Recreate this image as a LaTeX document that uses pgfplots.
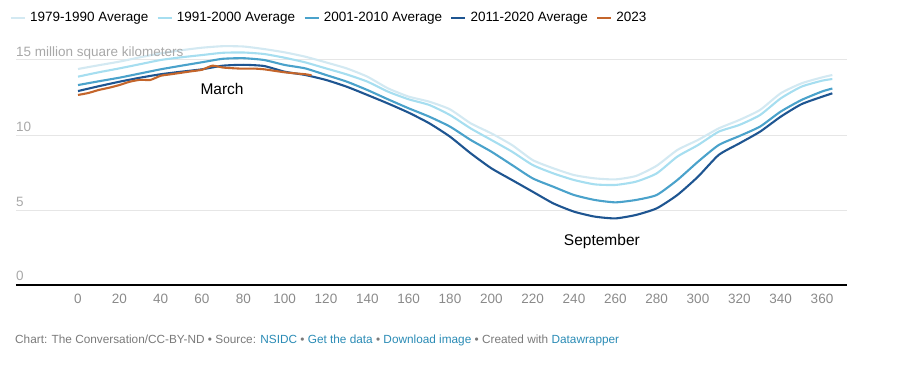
\documentclass[border=0pt]{standalone}
\usepackage{pgfplots}
\pgfplotsset{compat=1.18}
\usepackage{fontspec}
\setmainfont{Liberation Sans}
\definecolor{cA}{HTML}{D3E9F2}
\definecolor{cB}{HTML}{A6DEF0}
\definecolor{cC}{HTML}{4AA2CB}
\definecolor{cD}{HTML}{1E5591}
\definecolor{cE}{HTML}{C4652B}
\definecolor{ticktxt}{HTML}{8A8A8A}
\definecolor{ylab}{HTML}{A8A8A8}
\definecolor{gridc}{HTML}{E6E6E6}
\definecolor{foot}{HTML}{7A7A7A}
\definecolor{link}{HTML}{2A8BB5}

\begin{document}
\begin{tikzpicture}[x=1pt,y=1pt]
\begin{axis}[
 at={(16pt,80pt)}, anchor=south west,
 scale only axis, width=830.8pt, height=247.5pt,
 xmin=-30, xmax=372, ymin=0, ymax=16.5,
 axis lines*=left,
 y axis line style={draw=none},
 x axis line style={black, line width=1.3pt},
 major tick length=0pt,
 xtick={0,20,...,360},
 ytick={5,10,15}, yticklabels={},
 ymajorgrids, grid style={gridc, line width=1pt},
 xticklabel style={text=ticktxt, font=\fontsize{13.5}{15}\selectfont, yshift=-6pt},
 /pgf/number format/assume math mode=true,
 clip=false,
 legend style={at={(-0.008,1.11)}, anchor=north west, draw=none, fill=none,
   legend columns=-1, font=\fontsize{13.5}{15}\selectfont, inner sep=0pt,
   /tikz/every odd column/.append style={column sep=2pt},
   /tikz/every even column/.append style={column sep=6pt}},
 legend image code/.code={\draw[#1, line width=2.5pt] (0pt,0pt) -- (14pt,0pt);},
 every axis plot/.append style={line width=2.1pt, line join=round, mark=none, smooth, tension=0.35},
]
\addplot[cA] coordinates {
(0,14.40)(10,14.65)(20,14.89)(30,15.18)(40,15.44)(50,15.65)(60,15.82)(70,15.92)(80,15.90)(90,15.73)
(100,15.51)(110,15.22)(120,14.84)(130,14.44)(140,13.89)(150,13.11)(160,12.56)(170,12.22)(180,11.71)(190,10.78)
(200,10.11)(210,9.33)(220,8.33)(230,7.78)(240,7.33)(250,7.11)(260,7.04)(270,7.27)(280,7.95)(290,9.00)
(300,9.67)(310,10.44)(320,11.00)(330,11.67)(340,12.78)(350,13.44)(360,13.84)(365,14.00)};
\addlegendentry{1979-1990 Average}
\addplot[cB] coordinates {
(0,13.89)(10,14.18)(20,14.44)(30,14.72)(40,15.00)(50,15.18)(60,15.33)(70,15.48)(80,15.50)(90,15.40)
(100,15.15)(110,14.84)(120,14.44)(130,14.04)(140,13.56)(150,12.89)(160,12.38)(170,12.00)(180,11.33)(190,10.44)
(200,9.67)(210,8.89)(220,8.00)(230,7.44)(240,7.00)(250,6.71)(260,6.67)(270,6.89)(280,7.44)(290,8.56)
(300,9.33)(310,10.22)(320,10.67)(330,11.33)(340,12.44)(350,13.22)(360,13.62)(365,13.73)};
\addlegendentry{1991-2000 Average}
\addplot[cC] coordinates {
(0,13.33)(10,13.58)(20,13.82)(30,14.10)(40,14.38)(50,14.62)(60,14.85)(70,15.08)(80,15.12)(90,15.00)
(100,14.67)(110,14.44)(120,14.00)(130,13.56)(140,13.00)(150,12.38)(160,11.78)(170,11.22)(180,10.56)(190,9.67)
(200,8.89)(210,8.00)(220,7.11)(230,6.55)(240,6.00)(250,5.67)(260,5.51)(270,5.67)(280,6.00)(290,7.00)
(300,8.22)(310,9.33)(320,9.93)(330,10.56)(340,11.56)(350,12.33)(360,12.90)(365,13.10)};
\addlegendentry{2001-2010 Average}
\addplot[cD] coordinates {
(0,12.93)(10,13.25)(20,13.55)(30,13.82)(40,14.05)(50,14.22)(60,14.38)(70,14.62)(80,14.68)(90,14.60)
(100,14.22)(110,14.00)(120,13.67)(130,13.22)(140,12.67)(150,12.10)(160,11.49)(170,10.78)(180,9.89)(190,8.78)
(200,7.78)(210,7.00)(220,6.22)(230,5.44)(240,4.89)(250,4.56)(260,4.44)(270,4.67)(280,5.11)(290,6.00)
(300,7.22)(310,8.67)(320,9.44)(330,10.22)(340,11.22)(350,12.05)(360,12.55)(365,12.78)};
\addlegendentry{2011-2020 Average}
\addplot[cE] coordinates {
(0,12.67)(5,12.80)(10,13.00)(15,13.15)(20,13.33)(25,13.55)(30,13.68)(35,13.67)(40,13.95)(45,14.05)
(50,14.15)(55,14.25)(60,14.35)(65,14.62)(70,14.50)(75,14.45)(80,14.42)(85,14.43)(90,14.38)(95,14.28)
(100,14.18)(105,14.11)(110,14.05)(113,13.98)};
\addlegendentry{2023}
\node[anchor=base west, inner sep=0pt, text=ylab, font=\fontsize{13.5}{15}\selectfont] at (axis cs:-30,15) [yshift=4pt] {15 million square kilometers};
\node[anchor=base west, inner sep=0pt, text=ylab, font=\fontsize{13.5}{15}\selectfont] at (axis cs:-30,10) [yshift=4pt] {10};
\node[anchor=base west, inner sep=0pt, text=ylab, font=\fontsize{13.5}{15}\selectfont] at (axis cs:-30,5) [yshift=4pt] {5};
\node[anchor=base west, inner sep=0pt, text=ylab, font=\fontsize{13.5}{15}\selectfont] at (axis cs:-30,0) [yshift=5pt] {0};
\node[font=\fontsize{15.5}{17}\selectfont] at (axis cs:69.7,13.07) {March};
\node[font=\fontsize{15.5}{17}\selectfont] at (axis cs:253.5,2.87) {September};
\end{axis}
\node[anchor=base west, inner sep=0pt, text=foot, font=\fontsize{11.8}{14}\selectfont] at (15,22) {Chart: The Conversation/CC-BY-ND • Source: \textcolor{link}{NSIDC} • \textcolor{link}{Get the data} • \textcolor{link}{Download image} • Created with \textcolor{link}{Datawrapper}};
\pgfresetboundingbox
\path (0,0) rectangle (900,365);
\end{tikzpicture}
\end{document}
